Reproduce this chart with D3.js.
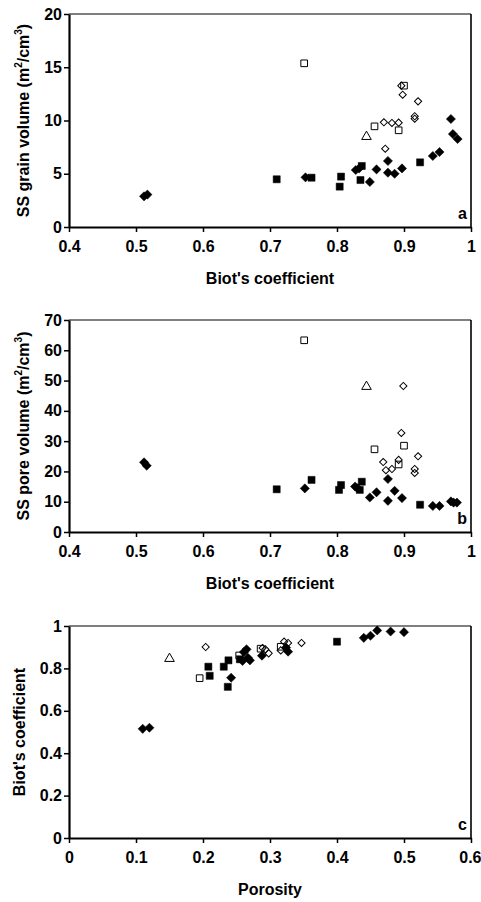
<!DOCTYPE html>
<html>
<head>
<meta charset="utf-8">
<script src="https://cdn.jsdelivr.net/npm/d3@7"></script>
<style>
body{margin:0;background:#fff;}
text{font-family:"Liberation Sans",Arial,sans-serif;font-weight:bold;fill:#000;}
</style>
</head>
<body>
<div id="chart"></div>
<script>
var w = 481, h = 902;

// panel a : Biot's coefficient vs SS grain volume
var aFilledDiamond = [[0.512,2.88],[0.517,3.04],[0.753,4.66],[0.828,5.35],[0.833,5.5],[0.849,4.23],[0.859,5.41],[0.876,6.2],[0.876,5.1],[0.886,5.0],[0.897,5.5],[0.943,6.67],[0.953,7.04],[0.970,10.14],[0.973,8.73],[0.980,8.26]];
var aFilledSquare = [[0.71,4.48],[0.762,4.63],[0.804,3.79],[0.806,4.73],[0.835,4.41],[0.837,5.73],[0.924,6.07]];
var aOpenSquare = [[0.751,15.37],[0.856,9.45],[0.892,9.08],[0.9,13.27]];
var aOpenDiamond = [[0.896,13.27],[0.898,12.42],[0.921,11.8],[0.916,10.4],[0.916,10.17],[0.870,9.83],[0.882,9.77],[0.892,9.8],[0.872,7.35]];
var aOpenTriangle = [[0.844,8.48]];

// panel b : Biot's coefficient vs SS pore volume
var bFilledDiamond = [[0.512,23.0],[0.516,21.9],[0.752,14.4],[0.827,15.0],[0.831,14.4],[0.849,11.4],[0.859,13.1],[0.876,17.5],[0.876,10.3],[0.886,13.6],[0.897,11.2],[0.943,8.6],[0.953,8.6],[0.970,10.1],[0.974,9.7],[0.979,9.7]];
var bFilledSquare = [[0.71,14.1],[0.762,17.2],[0.803,13.9],[0.806,15.5],[0.834,13.9],[0.837,16.6],[0.924,9.0]];
var bOpenSquare = [[0.751,63.3],[0.856,27.3],[0.892,22.3],[0.9,28.5]];
var bOpenDiamond = [[0.869,23.1],[0.873,20.4],[0.882,20.8],[0.892,23.8],[0.896,32.7],[0.899,48.2],[0.916,20.8],[0.916,19.5],[0.921,25.0]];
var bOpenTriangle = [[0.844,48.0]];

// panel c : porosity vs Biot's coefficient
var cFilledDiamond = [[0.11,0.515],[0.12,0.52],[0.242,0.756],[0.259,0.835],[0.261,0.877],[0.265,0.89],[0.267,0.85],[0.27,0.838],[0.288,0.86],[0.324,0.898],[0.327,0.879],[0.44,0.944],[0.45,0.954],[0.46,0.979],[0.48,0.974],[0.5,0.971]];
var cFilledSquare = [[0.208,0.808],[0.21,0.765],[0.231,0.808],[0.238,0.838],[0.237,0.713],[0.255,0.843],[0.4,0.926]];
var cOpenSquare = [[0.195,0.754],[0.254,0.861],[0.286,0.893],[0.316,0.902]];
var cOpenDiamond = [[0.204,0.901],[0.289,0.896],[0.293,0.89],[0.298,0.871],[0.316,0.885],[0.321,0.926],[0.327,0.92],[0.347,0.92]];
var cOpenTriangle = [[0.150,0.846]];

var biotTicks = [0.4,0.5,0.6,0.7,0.8,0.9,1];
var grainTicks = [0,5,10,15,20];
var poreTicks = [0,10,20,30,40,50,60,70];
var porosityTicks = [0,0.1,0.2,0.3,0.4,0.5,0.6];
var biotTicksC = [0,0.2,0.4,0.6,0.8,1];

var left = 69, right = 471;

var svg = d3.select("#chart").append("svg")
  .attr("width", w)
  .attr("height", h);

function drawPanel(p){
  var x = d3.scaleLinear().domain(p.xDomain).range([left, right]);
  var y = d3.scaleLinear().domain(p.yDomain).range([p.bottom, p.top]);
  var g = svg.append("g");

  // top and right frame
  g.append("line").attr("x1", left).attr("x2", right).attr("y1", p.top).attr("y2", p.top)
    .attr("stroke", "#000").attr("stroke-width", 1.2);
  g.append("line").attr("x1", right).attr("x2", right).attr("y1", p.top).attr("y2", p.bottom)
    .attr("stroke", "#000").attr("stroke-width", 1.6);

  var xa = g.append("g")
    .attr("transform", "translate(0," + p.bottom + ")")
    .call(d3.axisBottom(x).tickValues(p.xTicks).tickFormat(d3.format("~g")).tickSize(5).tickSizeOuter(0).tickPadding(9));
  var ya = g.append("g")
    .attr("transform", "translate(" + left + ",0)")
    .call(d3.axisLeft(y).tickValues(p.yTicks).tickFormat(d3.format("~g")).tickSize(5).tickSizeOuter(0).tickPadding(2));
  [xa, ya].forEach(function(a){
    a.select(".domain").attr("stroke", "#000").attr("stroke-width", 2.2);
    a.selectAll(".tick line").attr("stroke", "#000").attr("stroke-width", 1.5);
    a.selectAll("text").attr("font-size", "16px").attr("font-family", null).style("fill", "#000");
  });
  // keep the last x label inside the page edge
  xa.selectAll(".tick text").filter(function(d){ return d === p.xDomain[1] && String(d).length > 1; })
    .attr("text-anchor", "end").attr("x", 10);

  // markers
  var sq = function(area){ return d3.symbol(d3.symbolSquare, area)(); };
  var tri = d3.symbol(d3.symbolTriangle, 40)();
  function plot(data, path, rot, filled){
    g.selectAll(null).data(data).enter().append("path")
      .attr("d", path)
      .attr("transform", function(d){ return "translate(" + x(d[0]) + "," + y(d[1]) + ") rotate(" + rot + ")"; })
      .attr("fill", filled ? "#000" : "none")
      .attr("stroke", "#000")
      .attr("stroke-width", filled ? 0.5 : 1);
  }
  plot(p.openSquare, sq(44), 0, false);
  plot(p.filledSquare, sq(50), 0, true);
  plot(p.filledDiamond, sq(42), 45, true);
  plot(p.openDiamond, sq(26), 45, false);
  plot(p.openTriangle, tri, 0, false);

  // panel letter
  g.append("text").attr("x", 467).attr("y", p.bottom - 8)
    .attr("text-anchor", "end").attr("font-size", "16px").text(p.letter);

  // x title
  g.append("text").attr("x", (left + right) / 2).attr("y", p.bottom + 57)
    .attr("text-anchor", "middle").attr("font-size", "16px").text(p.xTitle);

  // y title
  var yt = g.append("text")
    .attr("transform", "translate(" + p.yTitleX + "," + ((p.top + p.bottom) / 2) + ") rotate(-90)")
    .attr("text-anchor", "middle").attr("font-size", "16px");
  p.yTitle.forEach(function(part){
    var t = yt.append("tspan").text(part[0]);
    if (part[1] === "sup") t.attr("font-size", "10px").attr("dy", -7);
    if (part[1] === "down") t.attr("dy", 7);
  });
}

drawPanel({
  top: 14, bottom: 227, xDomain: [0.4, 1], yDomain: [0, 20],
  xTicks: biotTicks, yTicks: grainTicks, letter: "a",
  xTitle: "Biot's coefficient", yTitleX: 29,
  yTitle: [["SS grain volume (m"], ["2", "sup"], ["/cm", "down"], ["3", "sup"], [")", "down"]],
  filledDiamond: aFilledDiamond, filledSquare: aFilledSquare, openSquare: aOpenSquare,
  openDiamond: aOpenDiamond, openTriangle: aOpenTriangle
});

drawPanel({
  top: 320, bottom: 532, xDomain: [0.4, 1], yDomain: [0, 70],
  xTicks: biotTicks, yTicks: poreTicks, letter: "b",
  xTitle: "Biot's coefficient", yTitleX: 29,
  yTitle: [["SS pore volume (m"], ["2", "sup"], ["/cm", "down"], ["3", "sup"], [")", "down"]],
  filledDiamond: bFilledDiamond, filledSquare: bFilledSquare, openSquare: bOpenSquare,
  openDiamond: bOpenDiamond, openTriangle: bOpenTriangle
});

drawPanel({
  top: 626, bottom: 838, xDomain: [0, 0.6], yDomain: [0, 1],
  xTicks: porosityTicks, yTicks: biotTicksC, letter: "c",
  xTitle: "Porosity", yTitleX: 25,
  yTitle: [["Biot's coefficient"]],
  filledDiamond: cFilledDiamond, filledSquare: cFilledSquare, openSquare: cOpenSquare,
  openDiamond: cOpenDiamond, openTriangle: cOpenTriangle
});
</script>
</body>
</html>
